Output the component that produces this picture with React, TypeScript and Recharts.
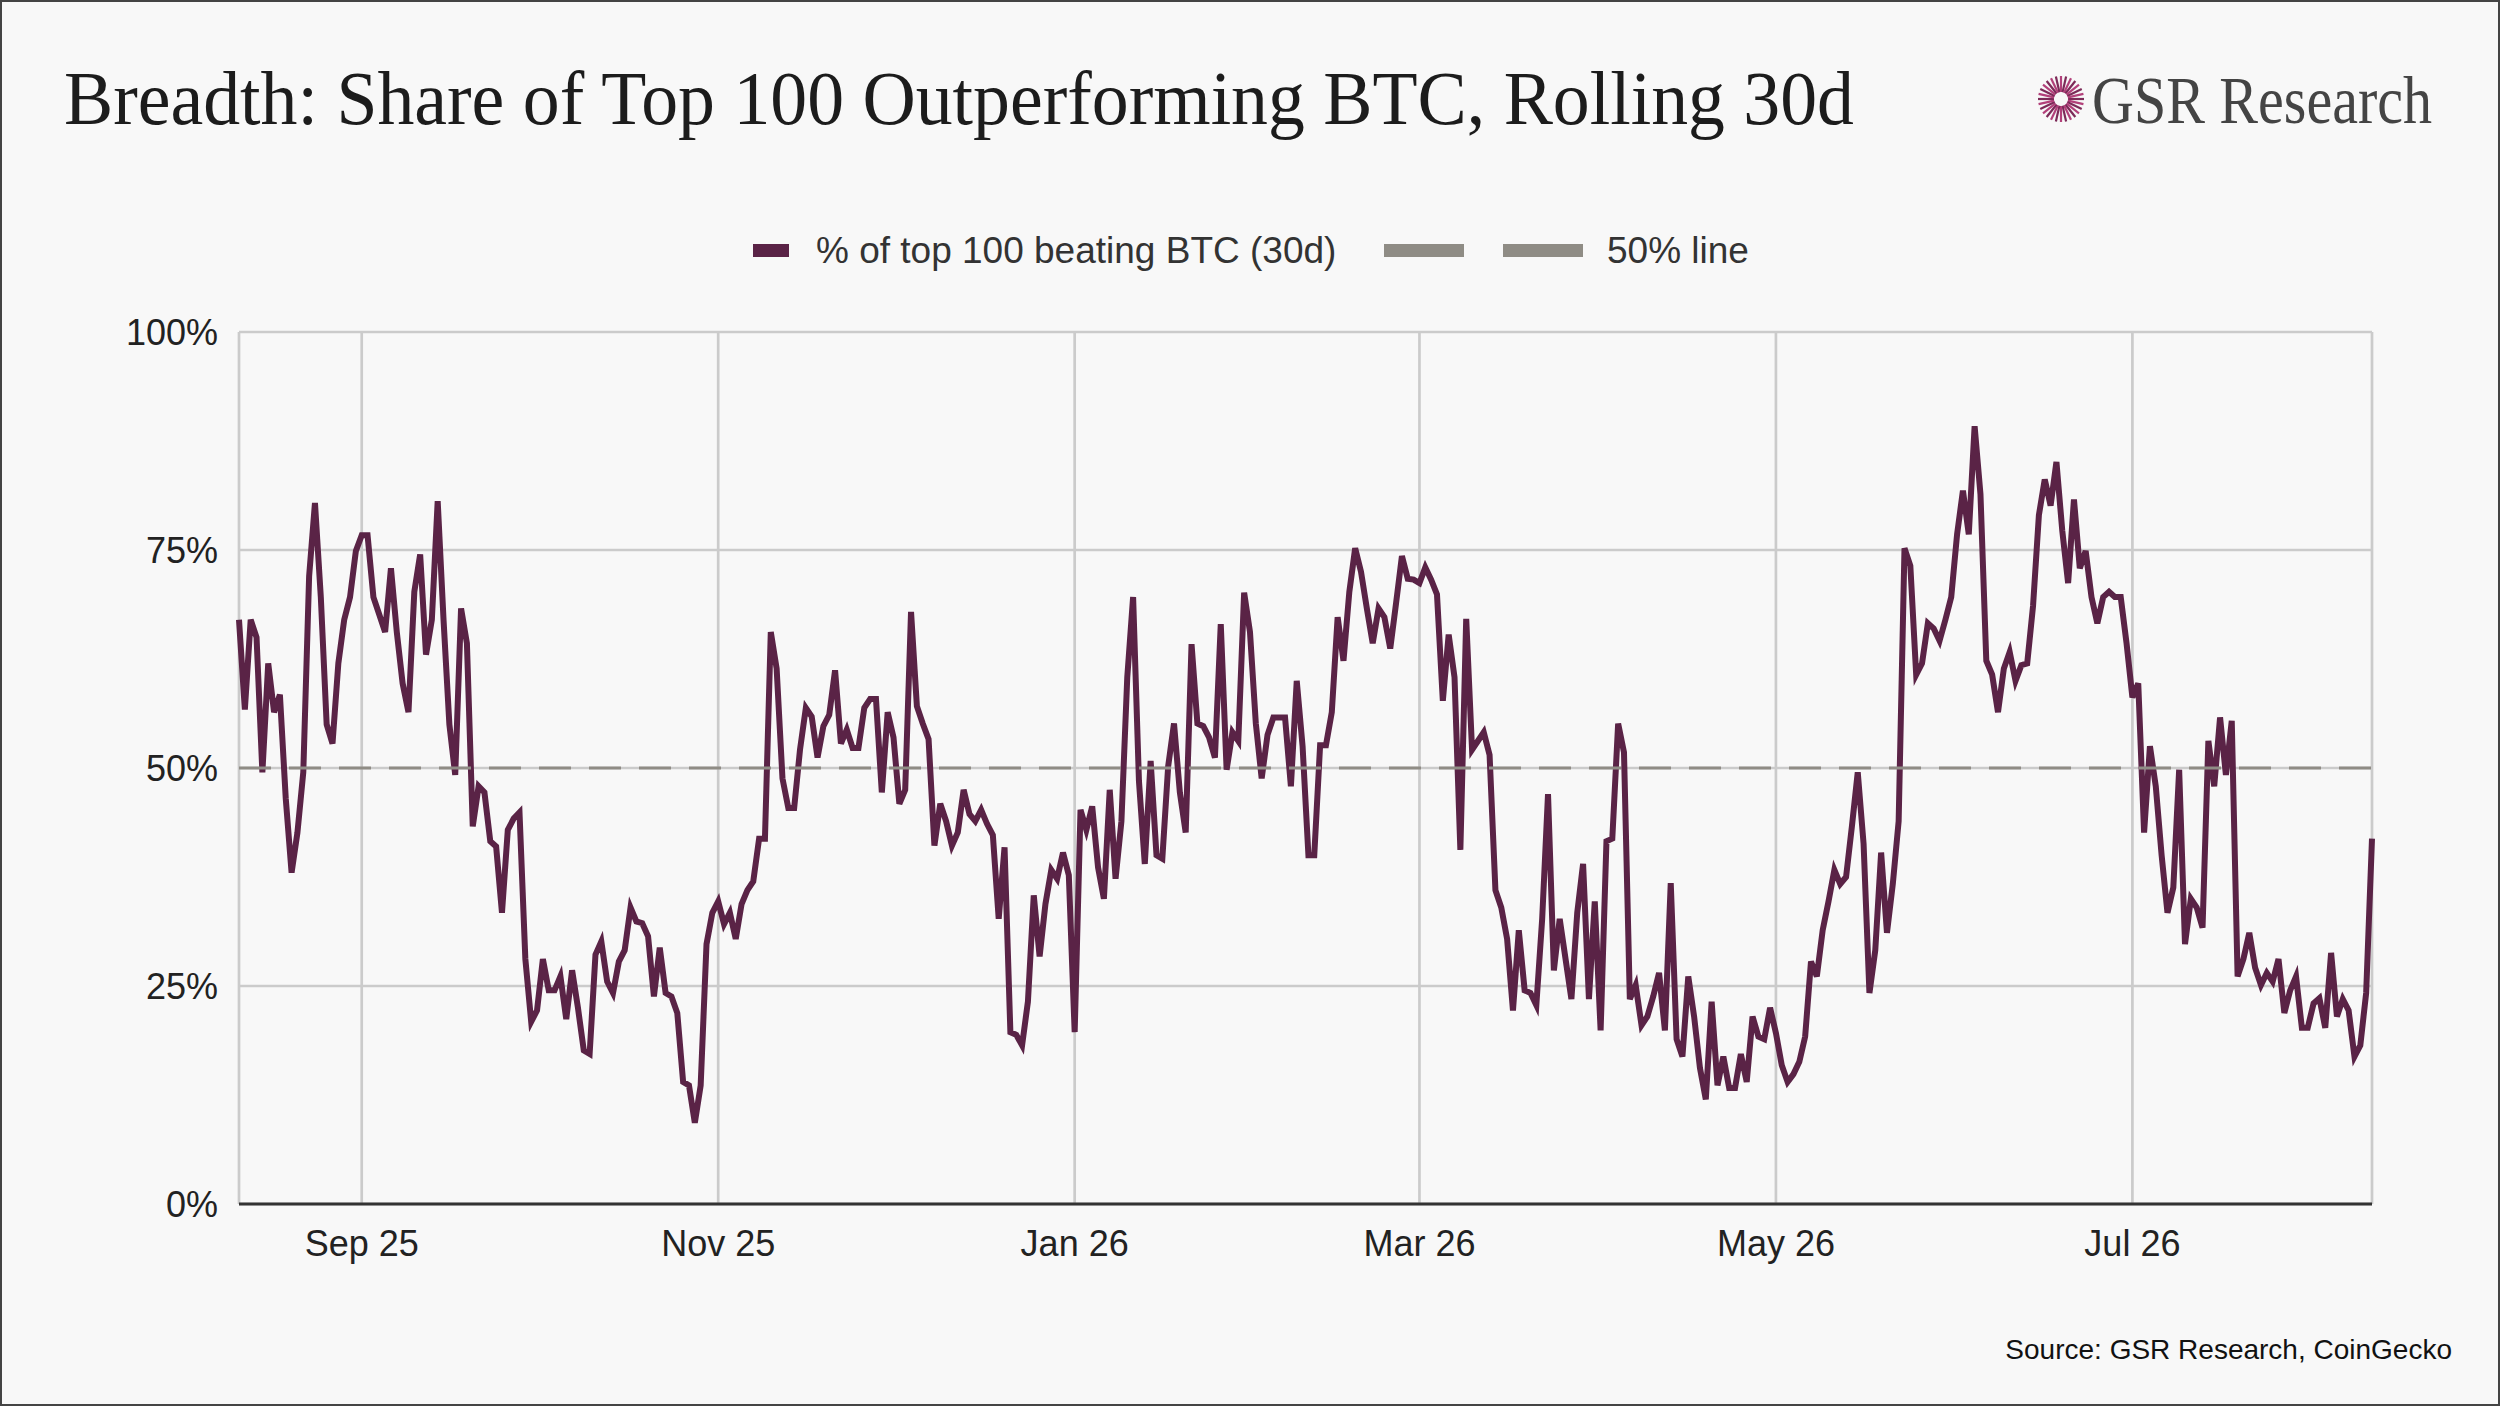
import React from "react";
import {
  LineChart,
  Line,
  XAxis,
  YAxis,
  CartesianGrid,
  ReferenceLine,
} from "recharts";

// daily readings, first day 2025-08-11
const START_DAY = "2025-08-11";

const SHARE_BEATING_BTC = [
  67, 56.7, 67, 65, 49.5, 62, 56.4, 58.4, 46.5, 38,
  42.6, 49.5, 72, 80.4, 69.6, 55, 52.8, 62, 67, 69.6,
  74.9, 76.7, 76.7, 69.6, 67.6, 65.6, 72.9, 65.6, 59.7, 56.4,
  70.2, 74.5, 63, 67, 80.6, 67, 55, 49.2, 68.3, 64.3,
  43.3, 47.9, 47.2, 41.6, 41, 33.4, 42.9, 44.2, 44.9, 28.1,
  20.9, 22.2, 28.1, 24.5, 24.5, 26.1, 21.2, 26.8, 22.5, 17.6,
  17.2, 28.6, 30.1, 25.5, 24.2, 27.8, 29.1, 34, 32.4, 32.2,
  30.7, 23.8, 29.4, 24.2, 23.8, 21.9, 14, 13.6, 9.3, 13.6,
  29.8, 33.4, 34.7, 32.1, 33.4, 30.4, 34.4, 36, 37, 41.9,
  41.9, 65.6, 61.4, 48.8, 45.4, 45.4, 52.1, 56.9, 55.9, 51.2,
  54.8, 56.1, 61.2, 52.8, 54.4, 52.3, 52.3, 56.9, 57.9, 57.9,
  47.2, 56.4, 53.5, 45.9, 47.5, 67.9, 57.1, 55.1, 53.3, 41.1,
  45.9, 43.9, 41.1, 42.6, 47.5, 44.7, 43.9, 45.2, 43.6, 42.3,
  32.7, 40.9, 19.7, 19.4, 18.2, 23.2, 35.4, 28.4, 34.4, 38.3,
  37.3, 40.3, 37.7, 19.7, 45.2, 42.9, 45.6, 38.6, 35, 47.5,
  37.3, 43.9, 60.4, 69.6, 48.5, 39, 50.8, 40, 39.6, 50.2,
  55.1, 47.2, 42.6, 64.2, 55.1, 54.8, 53.5, 51.2, 66.5, 49.8,
  54.1, 53.1, 70.1, 65.6, 55.1, 48.8, 53.8, 55.8, 55.8, 55.8,
  47.9, 60, 52.5, 40, 40, 52.6, 52.6, 56.4, 67.3, 62.3,
  70.2, 75.2, 72.5, 68.3, 64.3, 68.3, 67.3, 63.7, 68.9, 74.3,
  71.7, 71.6, 71.2, 73, 71.6, 69.9, 57.7, 65.3, 60.4, 40.6,
  67.1, 52.1, 53.1, 54.1, 51.5, 36, 34, 30.4, 22.2, 31.4,
  24.5, 24.2, 22.8, 32.7, 47, 26.8, 32.7, 28.1, 23.5, 33.4,
  39, 23.5, 34.7, 19.9, 41.6, 41.9, 55.1, 51.8, 23.5, 25.1,
  20.5, 21.5, 23.8, 26.5, 19.9, 36.8, 18.9, 16.9, 26.1, 21.5,
  15.6, 12, 23.2, 13.6, 16.9, 13.3, 13.3, 17.2, 14, 21.5,
  19.2, 18.9, 22.5, 19.6, 15.9, 14, 14.9, 16.3, 19.2, 27.8,
  26.1, 31.4, 34.7, 38.3, 36.7, 37.5, 43.3, 49.5, 41.3, 24.2,
  29.1, 40.3, 31.1, 36.7, 43.9, 75.2, 73.2, 60.7, 62, 66.6,
  66, 64.6, 67, 69.6, 76.8, 81.8, 76.8, 89.2, 81.4, 62.3,
  60.7, 56.4, 61.4, 63.3, 60, 61.8, 62, 68.6, 79, 83.1,
  80.1, 85.1, 77.2, 71.2, 80.8, 72.9, 74.9, 69.6, 66.6, 69.6,
  70.2, 69.6, 69.6, 64.3, 58.1, 59.7, 42.6, 52.5, 47.9, 40,
  33.4, 36.3, 49.8, 29.8, 35, 34, 31.7, 53.1, 47.9, 55.8,
  49.2, 55.4, 26.1, 28.1, 31.1, 27.1, 25.1, 26.5, 25.5, 28.1,
  21.9, 24.5, 26.1, 20.2, 20.2, 23, 23.6, 20.2, 28.8, 21.5,
  23.5, 22.2, 16.9, 18.2, 24.2, 41.9,
];

const TICK_DATES = ["2025-09-01", "2025-11-01", "2026-01-01", "2026-03-01", "2026-05-01", "2026-07-01"];
const TICK_LABELS = ["Sep 25", "Nov 25", "Jan 26", "Mar 26", "May 26", "Jul 26"];
const Y_TICKS = [0, 25, 50, 75, 100];
const FIFTY_LINE = 50;

const SERIES_NAME = "% of top 100 beating BTC (30d)";
const REF_NAME = "50% line";

const MAROON = "#5a2346";
const REF_GRAY = "#8f8c85";
const SANS = "'Liberation Sans', Arial, sans-serif";
const SERIF = "'Liberation Serif', 'Times New Roman', serif";

const DAY_MS = 86400000;
const toMs = (s: string) => Date.parse(s + "T00:00:00Z");
const startMs = toMs(START_DAY);
const data = SHARE_BEATING_BTC.map((v, i) => ({ t: startMs + i * DAY_MS, v }));
const tickTimes = TICK_DATES.map(toMs);
const fmtX = (t: number) => {
  const i = tickTimes.indexOf(t);
  return i >= 0 ? TICK_LABELS[i] : "";
};

function Logo({ cx, cy }: { cx: number; cy: number }) {
  const rays = [];
  for (let k = 0; k < 28; k++) {
    const a = (k / 28) * Math.PI * 2;
    rays.push(
      <line
        key={k}
        x1={cx + Math.cos(a) * 7}
        y1={cy + Math.sin(a) * 7}
        x2={cx + Math.cos(a) * 23}
        y2={cy + Math.sin(a) * 23}
        stroke={k % 2 ? "#b2407a" : "#7c2a58"}
        strokeWidth={2.2}
      />
    );
  }
  return <g>{rays}</g>;
}

function Overlay() {
  return (
    <svg width={2500} height={1406} style={{ position: "absolute", left: 0, top: 0 }}>
      <rect x={1} y={1} width={2498} height={1404} fill="none" stroke="#444" strokeWidth={2} />
      <text
        x={64}
        y={124}
        fontFamily={SERIF}
        fontSize={77}
        fill="#1c1c1c"
        textLength={1790}
        lengthAdjust="spacingAndGlyphs"
      >
        Breadth: Share of Top 100 Outperforming BTC, Rolling 30d
      </text>
      <Logo cx={2061} cy={99} />
      <text
        x={2092}
        y={123}
        fontFamily={SERIF}
        fontSize={68}
        fill="#444"
        textLength={340}
        lengthAdjust="spacingAndGlyphs"
      >
        GSR Research
      </text>

      {/* legend */}
      <rect x={753} y={244} width={36} height={13} fill={MAROON} />
      <text x={816} y={250} dominantBaseline="central" fontFamily={SANS} fontSize={37} fill="#333">
        {SERIES_NAME}
      </text>
      <rect x={1384} y={244} width={80} height={13} fill={REF_GRAY} />
      <rect x={1503} y={244} width={80} height={13} fill={REF_GRAY} />
      <text x={1607} y={250} dominantBaseline="central" fontFamily={SANS} fontSize={37} fill="#333">
        {REF_NAME}
      </text>

      <text x={2452} y={1349} dominantBaseline="central" textAnchor="end" fontFamily={SANS} fontSize={28} fill="#111">
        Source: GSR Research, CoinGecko
      </text>
    </svg>
  );
}

export default function App(): JSX.Element {
  return (
    <div
      style={{
        position: "absolute",
        left: 0,
        top: 0,
        width: 2500,
        height: 1406,
        background: "#f8f8f8",
        overflow: "hidden",
      }}
    >
      <Overlay />
      <div style={{ position: "absolute", left: 0, top: 0 }}>
        <LineChart
          width={2500}
          height={1406}
          data={data}
          margin={{ top: 332, right: 128, bottom: 122, left: 0 }}
        >
          <CartesianGrid stroke="#cbcbcb" strokeWidth={2.7} />
          <XAxis
            dataKey="t"
            type="number"
            scale="time"
            domain={["dataMin", "dataMax"]}
            ticks={tickTimes}
            tickFormatter={fmtX}
            height={80}
            tickLine={false}
            tickSize={0}
            tickMargin={26}
            axisLine={{ stroke: "#333", strokeWidth: 3 }}
            tick={{ fontSize: 36, fill: "#222", fontFamily: SANS }}
          />
          <YAxis
            domain={[0, 100]}
            ticks={Y_TICKS}
            tickFormatter={(v: number) => `${v}%`}
            width={239}
            axisLine={false}
            tickLine={false}
            tickSize={0}
            tickMargin={21}
            tick={{ fontSize: 36, fill: "#222", fontFamily: SANS }}
          />
          <Line
            type="linear"
            dataKey="v"
            name={SERIES_NAME}
            stroke={MAROON}
            strokeWidth={6}
            dot={false}
            activeDot={false}
            isAnimationActive={false}
          />
          <ReferenceLine
            y={FIFTY_LINE}
            stroke={REF_GRAY}
            strokeWidth={3}
            strokeDasharray="32 18"
          />
        </LineChart>
      </div>
    </div>
  );
}
